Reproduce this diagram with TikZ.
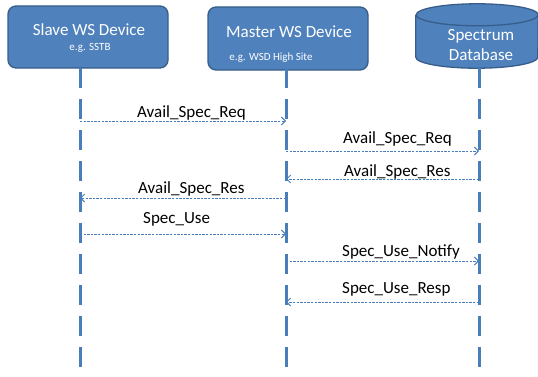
\documentclass[tikz,border=0pt]{standalone}
\usepackage{fontspec}
\setmainfont{Carlito}
\usetikzlibrary{arrows.meta}
\definecolor{boxfill}{HTML}{4F81BD}
\definecolor{boxline}{HTML}{385D8A}
\definecolor{wire}{HTML}{4A7EBB}
\tikzset{
  actor/.style={draw=boxline, line width=1.3pt, fill=boxfill, rounded corners=8pt,
    minimum width=#1, minimum height=62pt, inner sep=0pt},
  title/.style={text=white, font=\fontsize{17}{20}\selectfont, inner sep=0pt},
  subtitle/.style={text=white, font=\fontsize{11}{13}\selectfont, inner sep=0pt},
  timeline/.style={color=wire, line width=3pt, dash pattern=on 20pt off 11pt},
  msg/.style={draw=wire, line width=0.9pt, dash pattern=on 2.4pt off 1.2pt,
    -{Straight Barb[length=4pt,width=8pt,line width=0.9pt]}},
  msglabel/.style={anchor=base west, inner sep=0pt, font=\fontsize{17}{20}\selectfont}
}
\begin{document}
\begin{tikzpicture}[x=1pt,y=1pt]
  \useasboundingbox (0,0) rectangle (538,376);

  % participants
  \node[actor=160pt] (slave) at (88,339) {};
  \node[title] at (89,346) {Slave WS Device};
  \node[subtitle] at (90,328) {e.g. SSTB};

  \node[actor=160pt, minimum height=63pt] (master) at (288,337.5) {};
  \node[title] at (289,344) {Master WS Device};
  \node[subtitle] at (271,318) {e.g. WSD High Site};

  % database cylinder
  \node[minimum width=122pt, minimum height=64pt, inner sep=0pt] (db) at (477,340) {};
  \fill[boxfill] ([yshift=-11pt]db.north west) -- ([yshift=11pt]db.south west)
    arc (180:360:61 and 11) -- ([yshift=-11pt]db.north east)
    arc (0:180:61 and 11) -- cycle;
  \draw[boxline, line width=1.3pt] ([yshift=-11pt]db.north west) -- ([yshift=11pt]db.south west)
    arc (180:360:61 and 11) -- ([yshift=-11pt]db.north east)
    arc (0:180:61 and 11) arc (180:360:61 and 11);
  \node[title, align=center, font=\fontsize{17}{20}\selectfont] at (481,331) {Spectrum\\Database};

  % lifelines
  \coordinate (ls) at (80,308);
  \coordinate (lm) at (286,308);
  \coordinate (ld) at (479,308);
  \coordinate (es) at (80,0);
  \coordinate (em) at (286,0);
  \coordinate (ed) at (479,0);
  \draw[timeline] (ls) -- (es);
  \draw[timeline] (lm) -- (em);
  \draw[timeline] (ld) -- (ed);

  % messages
  \draw[msg] (ls |- 0,255) -- (lm |- 0,255);
  \node[msglabel] at (137,259) {Avail\_Spec\_Req};

  \draw[msg] (lm |- 0,225) -- (ld |- 0,225);
  \node[msglabel] at (343,233) {Avail\_Spec\_Req};

  \draw[msg] (ld |- 0,197) -- (lm |- 0,197);
  \node[msglabel] at (344,200) {Avail\_Spec\_Res};

  \draw[msg] (lm |- 0,178) -- (ls |- 0,178);
  \node[msglabel] at (138,183) {Avail\_Spec\_Res};

  \draw[msg] (ls |- 0,142) -- (lm |- 0,142);
  \node[msglabel] at (143,153) {Spec\_Use};

  \draw[msg] (lm |- 0,115) -- (ld |- 0,115);
  \node[msglabel] at (342,120) {Spec\_Use\_Notify};

  \draw[msg] (ld |- 0,74) -- (lm |- 0,74);
  \node[msglabel] at (342,83) {Spec\_Use\_Resp};
\end{tikzpicture}
\end{document}
